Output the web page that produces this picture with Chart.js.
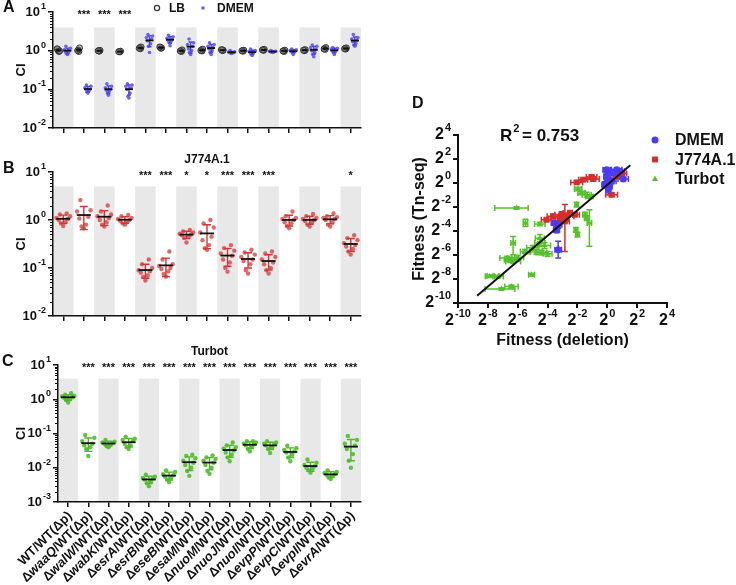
<!DOCTYPE html>
<html>
<head>
<meta charset="utf-8">
<script src="https://cdn.jsdelivr.net/npm/chart.js@4.4.1/dist/chart.umd.min.js"></script>
<style>
  html, body { margin: 0; padding: 0; background: #fff; }
  #wrap { position: relative; width: 736px; height: 585px; overflow: hidden; }
  #wrap canvas { position: absolute; left: 0; top: 0; }
</style>
</head>
<body>
<div id="wrap">
  <canvas id="panelA" width="736" height="585"></canvas>
  <canvas id="panelB" width="736" height="585"></canvas>
  <canvas id="panelC" width="736" height="585"></canvas>
  <canvas id="panelD" width="736" height="585"></canvas>
</div>
<script>
// ---- data ----
const strains = ['WT', 'waaQ', 'walW', 'wabK', 'esrA', 'esrB', 'eseB', 'esaM', 'nuoM', 'nuoJ', 'nuoI', 'evpP', 'evpC', 'evpI', 'evrA'];

// panel A, competitive index in LB and DMEM
const lbCI = [
  [1.0, 1.08, 0.95, 1.12, 0.98], [0.95, 1.05, 1.18, 1.0], [0.97, 1.0, 1.02, 0.99], [0.93, 0.95, 0.97, 0.94],
  [1.12, 1.2, 1.25, 1.15], [1.15, 1.22, 1.18, 1.25], [0.95, 1.0, 1.05, 0.98], [0.98, 1.05, 1.1, 1.0],
  [1.0, 1.05, 1.03, 1.06], [0.97, 1.0, 1.03, 0.99], [1.02, 1.06, 1.08, 1.04], [0.95, 1.0, 1.03, 0.98],
  [1.0, 1.04, 1.06, 1.02], [1.08, 1.15, 1.2, 1.1], [1.1, 1.15, 1.18, 1.12]
];
const dmemCI = [
  [0.8, 0.85, 0.9, 0.95, 1.0, 1.05, 1.15, 1.3],
  [0.08, 0.085, 0.09, 0.1, 0.1, 0.11, 0.12, 0.13],
  [0.07, 0.08, 0.09, 0.095, 0.1, 0.11, 0.12, 0.14],
  [0.06, 0.065, 0.08, 0.1, 0.11, 0.12, 0.13, 0.14],
  [0.9, 1.3, 1.5, 1.8, 2.0, 2.2, 2.4, 2.6],
  [1.35, 1.6, 1.75, 1.85, 1.95, 2.1, 2.3, 2.5],
  [0.8, 0.9, 1.0, 1.1, 1.3, 1.45, 1.6, 2.0],
  [0.8, 0.9, 1.0, 1.1, 1.2, 1.3, 1.45, 1.6],
  [0.85, 0.87, 0.88, 0.9, 0.9, 0.92, 0.94, 1.0],
  [0.75, 0.8, 0.85, 0.9, 0.95, 0.97, 1.0, 1.1],
  [0.9, 0.92, 0.93, 0.94, 0.95, 0.96, 0.97, 1.0],
  [0.8, 0.88, 0.92, 0.96, 1.0, 1.02, 1.05, 1.1],
  [0.7, 0.8, 0.9, 1.0, 1.1, 1.2, 1.3, 1.4],
  [0.8, 0.9, 0.95, 1.0, 1.05, 1.1, 1.15, 1.2],
  [1.3, 1.4, 1.55, 1.7, 1.85, 2.0, 2.2, 2.6]
];
// panel B, J774A.1 macrophages
const j774CI = [
  [0.75, 0.85, 0.9, 1.0, 1.05, 1.1, 1.2, 1.3, 1.37],
  [0.67, 0.73, 0.8, 1.08, 1.17, 1.5, 1.6, 2.6],
  [0.73, 0.8, 0.9, 1.0, 1.1, 1.2, 1.3, 1.5, 2.0],
  [0.8, 0.85, 0.9, 0.95, 1.0, 1.05, 1.1, 1.2, 1.27],
  [0.055, 0.065, 0.07, 0.08, 0.085, 0.09, 0.1, 0.12, 0.15],
  [0.066, 0.075, 0.085, 0.095, 0.1, 0.11, 0.12, 0.15, 0.22],
  [0.34, 0.42, 0.45, 0.48, 0.5, 0.52, 0.55, 0.58, 0.62],
  [0.24, 0.26, 0.3, 0.38, 0.45, 0.55, 0.7, 0.85, 1.0],
  [0.084, 0.1, 0.13, 0.15, 0.18, 0.2, 0.23, 0.26, 0.3],
  [0.077, 0.09, 0.12, 0.14, 0.15, 0.17, 0.19, 0.21, 0.24],
  [0.077, 0.09, 0.1, 0.12, 0.13, 0.15, 0.17, 0.2, 0.22],
  [0.67, 0.75, 0.85, 0.9, 1.0, 1.05, 1.1, 1.2, 1.5],
  [0.73, 0.8, 0.9, 0.95, 1.0, 1.05, 1.1, 1.2, 1.33],
  [0.73, 0.8, 0.9, 1.0, 1.05, 1.1, 1.15, 1.2, 1.37],
  [0.19, 0.22, 0.25, 0.28, 0.3, 0.33, 0.38, 0.42, 0.48]
];
// panel C, turbot infection
const turbotCI = [
  [0.8, 0.95, 1.0, 1.1, 1.15, 1.2, 1.25, 1.35, 1.5],
  [0.022, 0.035, 0.04, 0.045, 0.05, 0.06, 0.075, 0.09],
  [0.04, 0.043, 0.046, 0.05, 0.052, 0.055, 0.058, 0.065],
  [0.035, 0.04, 0.045, 0.05, 0.06, 0.065, 0.07, 0.08],
  [0.0029, 0.0035, 0.004, 0.0045, 0.0048, 0.005, 0.0055, 0.0063],
  [0.0038, 0.0045, 0.005, 0.0055, 0.006, 0.0065, 0.0075, 0.0084],
  [0.0058, 0.008, 0.01, 0.012, 0.014, 0.016, 0.019, 0.022, 0.024],
  [0.0067, 0.008, 0.01, 0.012, 0.014, 0.016, 0.018, 0.02, 0.023],
  [0.0155, 0.02, 0.024, 0.028, 0.032, 0.036, 0.04, 0.045, 0.055],
  [0.03, 0.035, 0.04, 0.045, 0.048, 0.05, 0.055, 0.06, 0.06],
  [0.027, 0.035, 0.04, 0.045, 0.048, 0.05, 0.055, 0.06],
  [0.0155, 0.02, 0.024, 0.028, 0.03, 0.033, 0.037, 0.044],
  [0.0072, 0.0085, 0.0095, 0.01, 0.011, 0.012, 0.014, 0.0175],
  [0.0047, 0.0052, 0.0058, 0.0062, 0.0065, 0.007, 0.0075, 0.0084],
  [0.01, 0.016, 0.025, 0.035, 0.045, 0.05, 0.065, 0.085]
];
const starsA = ['', '***', '***', '***', '', '', '', '', '', '', '', '', '', '', ''];
const starsB = ['', '', '', '', '***', '***', '*', '*', '***', '***', '***', '', '', '', '*'];
const starsC = ['', '***', '***', '***', '***', '***', '***', '***', '***', '***', '***', '***', '***', '***', '***'];
const ciTicksAB = [0.01, 0.1, 1, 10];
const ciTicksC = [0.001, 0.01, 0.1, 1, 10];

// panel D, log2 fitness: [deletion, Tn-seq, x error, y error] (error may be [minus, plus])
const dmemFit = [
  [-0.04, 1.11, 0.25, 0.15], [0.18, 0.97, 0.3, 0.15], [0.4, 0.83, 0.3, 0.2], [0.63, 1.11, 0.35, 0.12],
  [0.85, 0.97, 0.3, 0.15], [-0.04, 0.55, 0.2, 0.3], [0.07, 0.28, 0.25, 0.25], [0.29, 0.14, 0.3, 0.2],
  [1.07, 0.33, 0.35, 0.15], [-0.16, -0.14, 0.2, 0.25], [0.13, -0.28, 0.2, 0.3], [0.07, -0.56, 0.15, 0.4],
  [-3.51, -3.33, 0.25, 0.2], [-3.29, -3.47, 0.25, 0.3], [-3.4, -3.89, 0.2, 0.25], [-3.29, -5.56, 0.22, 0.7]
];
const j774Fit = [
  [-2.05, 0.05, 0.4, 0.12], [-1.61, 0.28, 0.3, 0.12], [-1.05, 0.5, 0.35, 0.15], [-0.94, 0.33, 0.4, 0.15],
  [0.29, -0.98, 0.4, 0.15], [0.7, 0.55, 0.3, 0.12], [1.0, 0.8, 0.3, 0.12],
  [-4.07, -3.06, 0.35, 0.15], [-3.63, -2.78, 0.4, 0.2], [-3.06, -2.64, 0.45, 0.25], [-2.73, -2.78, 0.5, 0.2],
  [-2.5, -2.5, 0.45, 0.2], [-2.84, -3.2, 0.3, [2.5, 1.4]], [-3.18, -2.92, 0.6, 0.2], [-2.17, -2.64, 0.3, 0.15]
];
const turbotFit = [
  [-6.08, -2.08, [1.46, 0.78], 0.1], [-5.48, -3.33, 0.15, 0.3], [-4.52, -3.42, 0.35, 0.15],
  [-6.31, -5.0, 0.15, [0.97, 0.55]], [-6.7, -6.25, 0.5, 0.15], [-6.5, -6.4, 0.4, 0.2], [-6.3, -6.55, 0.5, 0.15],
  [-6.0, -6.2, 0.4, 0.15], [-5.52, -5.7, 0.3, 0.15], [-5.0, -5.4, 0.4, 0.2], [-4.52, -5.0, 0.35, 0.3],
  [-4.2, -5.2, 0.4, 0.25], [-4.75, -5.75, 0.4, 0.2], [-4.4, -5.8, 0.35, 0.2], [-4.0, -5.9, 0.3, 0.2],
  [-4.52, -4.6, 0.3, 0.3], [-5.07, -7.64, 0.2, 0.1], [-7.87, -7.78, 0.3, 0.1], [-7.65, -7.75, 0.4, 0.1],
  [-7.31, -7.8, 0.35, 0.1], [-7.09, -8.83, [1.1, 0.9], 0.1], [-6.42, -8.62, 0.45, 0.12],
  [-2.06, -1.81, 0.1, 0.2], [-1.95, -0.5, 0.25, 0.15], [-1.72, -0.83, 0.25, 0.15], [-1.38, -0.98, 0.3, 0.2],
  [-1.2, -1.12, 0.25, 0.15], [-1.5, -2.64, 0.15, 0.2], [-1.38, -2.92, 0.15, 0.2], [-1.2, -3.33, 0.15, [1.95, 1.1]],
  [-2.1, -3.9, 0.12, 0.2], [-2.0, -4.3, 0.12, 0.2]
];
const fitTicks = [-10, -8, -6, -4, -2, 0, 2, 4];
const fitLine = { slope: 1.06, intercept: -0.15, from: -8.72, to: 1.54 };
const r2Text = '0.753';

// ---- helpers ----
const FONT = '"Liberation Sans", Arial, Helvetica, sans-serif';
Chart.defaults.font.family = FONT;
Chart.defaults.color = '#111';
const INK = '#111';

function powLabel(ctx, base, exp, x, y, align, size) {
  const bFont = 'bold ' + size + 'px ' + FONT;
  const eFont = 'bold ' + Math.round(size * 0.66) + 'px ' + FONT;
  ctx.font = bFont; const wb = ctx.measureText(base).width;
  ctx.font = eFont; const we = ctx.measureText(exp).width;
  const total = wb + we + 1;
  const x0 = align === 'right' ? x - total : align === 'center' ? x - total / 2 : x;
  ctx.textAlign = 'left'; ctx.textBaseline = 'middle';
  ctx.font = bFont; ctx.fillText(base, x0, y);
  ctx.font = eFont; ctx.fillText(exp, x0 + wb + 1, y - size * 0.42);
}

function spread(j, step) {
  const k = [0, -1, 1, -2, 2, -3, 3, -1.5, 1.5, -0.5, 0.5][j % 11];
  return k * step;
}
function dots(groups, shift, step) {
  const pts = [];
  groups.forEach((vals, i) => vals.forEach((v, j) => pts.push({ x: i + shift + spread(j, step), y: v })));
  return pts;
}

function categoryAxis() {
  return {
    type: 'linear', min: -0.5, max: strains.length - 0.5,
    afterBuildTicks: s => { s.ticks = strains.map((_, i) => ({ value: i })); },
    afterFit: s => { s.height = 7; },
    ticks: { display: false },
    grid: { drawOnChartArea: false, drawTicks: true, tickLength: 5, color: INK, lineWidth: 1.5 },
    border: { color: INK, width: 1.5 }
  };
}
function ciAxis(ticks, width) {
  return {
    type: 'logarithmic', min: ticks[0], max: ticks[ticks.length - 1],
    afterBuildTicks: s => { s.ticks = ticks.map(v => ({ value: v })); },
    afterFit: s => { s.width = width; },
    ticks: { display: false },
    grid: { drawOnChartArea: false, drawTicks: true, tickLength: 5, color: INK, lineWidth: 1.5 },
    border: { color: INK, width: 1.5 },
    title: { display: true, text: 'CI', color: INK, font: { size: 13, weight: 'bold' }, padding: { top: 14 } }
  };
}

// bands, mean +/- SD, stars, y labels and panel texts for the dot plots
const dotPlot = {
  id: 'dotPlot',
  beforeDraw(chart, args, o) {
    const { ctx, chartArea: a, scales: { x, y } } = chart;
    const top = y.getPixelForValue(o.bandTop);
    ctx.save();
    ctx.fillStyle = '#e8e8e8';
    for (let i = 0; i < strains.length; i += 2) {
      const l = x.getPixelForValue(i - 0.5), r = x.getPixelForValue(i + 0.5);
      ctx.fillRect(l, top, r - l, a.bottom - top);
    }
    ctx.restore();
  },
  afterDatasetsDraw(chart, args, o) {
    const { ctx, scales: { x, y } } = chart;
    ctx.save();
    o.series.forEach(s => {
      s.groups.forEach((vals, i) => {
        const n = vals.length;
        const mean = vals.reduce((p, v) => p + v, 0) / n;
        const sd = Math.sqrt(vals.reduce((p, v) => p + (v - mean) * (v - mean), 0) / (n - 1));
        const cx = x.getPixelForValue(i + s.shift);
        const lo = y.getPixelForValue(Math.max(mean - sd, y.min));
        const hi = y.getPixelForValue(mean + sd);
        const my = y.getPixelForValue(mean);
        ctx.strokeStyle = s.bar; ctx.lineWidth = 1.4;
        ctx.beginPath();
        ctx.moveTo(cx, lo); ctx.lineTo(cx, hi);
        ctx.moveTo(cx - s.cap, lo); ctx.lineTo(cx + s.cap, lo);
        ctx.moveTo(cx - s.cap, hi); ctx.lineTo(cx + s.cap, hi);
        ctx.stroke();
        ctx.strokeStyle = INK; ctx.lineWidth = 1.8;
        ctx.beginPath(); ctx.moveTo(cx - s.half, my); ctx.lineTo(cx + s.half, my); ctx.stroke();
      });
    });
    ctx.restore();
  },
  afterDraw(chart, args, o) {
    const { ctx, chartArea: a, scales: { x, y } } = chart;
    ctx.save();
    ctx.fillStyle = INK; ctx.strokeStyle = INK; ctx.lineWidth = 1;
    // minor log ticks
    for (let d = Math.log10(y.min); d < Math.log10(y.max); d++) {
      for (let k = 2; k <= 9; k++) {
        const py = Math.round(y.getPixelForValue(k * Math.pow(10, d))) + 0.5;
        ctx.beginPath(); ctx.moveTo(a.left, py); ctx.lineTo(a.left - 3, py); ctx.stroke();
      }
    }
    y.ticks.forEach(t => {
      powLabel(ctx, '10', String(Math.round(Math.log10(t.value))), a.left - 7, y.getPixelForValue(t.value), 'right', 13);
    });
    ctx.fillStyle = INK;
    ctx.font = 'bold 11px ' + FONT; ctx.textAlign = 'center'; ctx.textBaseline = 'middle';
    o.stars.forEach((s, i) => { if (s) ctx.fillText(s, x.getPixelForValue(i), o.starY); });
    ctx.font = 'bold 16px ' + FONT; ctx.textAlign = 'left';
    ctx.fillText(o.letter, o.letterAt[0], o.letterAt[1]);
    if (o.title) {
      ctx.font = 'bold 12px ' + FONT; ctx.textAlign = 'center';
      ctx.fillText(o.title, (a.left + a.right) / 2, o.titleY);
    }
    if (o.legend) o.legend(ctx);
    if (o.xLabels) o.xLabels(ctx, chart);
    ctx.restore();
  }
};

function dotChart(id, pad, yTicks, yWidth, datasets, plot) {
  return new Chart(document.getElementById(id), {
    type: 'scatter',
    data: { datasets },
    options: {
      responsive: false, animation: false, events: [],
      layout: { padding: pad },
      scales: { x: categoryAxis(), y: ciAxis(yTicks, yWidth) },
      plugins: { legend: { display: false }, tooltip: { enabled: false }, dotPlot: plot }
    },
    plugins: [dotPlot]
  });
}

// ---- panel A ----
const blueDot = '#6d62f3', blueBar = '#4a3ef0';
dotChart('panelA', { left: 0, top: 12, right: 375, bottom: 450 }, ciTicksAB, 53, [
  { data: dots(dmemCI, 0.2, 0.05), pointRadius: 1.8, backgroundColor: blueDot, borderWidth: 0 },
  { data: dots(lbCI, -0.24, 0.03), pointRadius: 3, backgroundColor: 'rgba(150,150,150,0.55)', borderColor: '#333', borderWidth: 1 }
], {
  bandTop: 4, starY: 15, letter: 'A', letterAt: [3, 8],
  stars: starsA,
  series: [
    { groups: lbCI, shift: -0.24, bar: '#333', cap: 2, half: 3 },
    { groups: dmemCI, shift: 0.2, bar: blueBar, cap: 2, half: 4 }
  ],
  legend(ctx) {
    ctx.strokeStyle = '#333'; ctx.lineWidth = 1.2;
    ctx.beginPath(); ctx.arc(157, 8, 2.6, 0, Math.PI * 2); ctx.stroke();
    ctx.fillStyle = blueDot;
    ctx.beginPath(); ctx.arc(203, 8, 1.8, 0, Math.PI * 2); ctx.fill();
    ctx.fillStyle = INK; ctx.font = 'bold 12px ' + FONT; ctx.textAlign = 'left'; ctx.textBaseline = 'middle';
    ctx.fillText('LB', 169, 9); ctx.fillText('DMEM', 217, 9);
  }
});

// ---- panel B ----
dotChart('panelB', { left: 0, top: 172, right: 375, bottom: 262 }, ciTicksAB, 53, [
  { data: dots(j774CI, 0, 0.11), pointRadius: 2.2, backgroundColor: 'rgba(214,55,55,0.75)', borderWidth: 0 }
], {
  bandTop: 5, starY: 176, letter: 'B', letterAt: [3, 169], title: 'J774A.1', titleY: 160,
  stars: starsB,
  series: [{ groups: j774CI, shift: 0, bar: '#d63535', cap: 4, half: 7 }]
});

// ---- panel C ----
dotChart('panelC', { left: 0, top: 365, right: 375, bottom: 76 }, ciTicksC, 58, [
  { data: dots(turbotCI, 0, 0.1), pointRadius: 2.2, backgroundColor: 'rgba(80,190,40,0.9)', borderWidth: 0 }
], {
  bandTop: 4, starY: 368, letter: 'C', letterAt: [2, 362], title: 'Turbot', titleY: 352,
  stars: starsC,
  series: [{ groups: turbotCI, shift: 0, bar: '#4cb82a', cap: 4, half: 7 }],
  xLabels(ctx, chart) {
    const { chartArea: a, scales: { x } } = chart;
    const reg = 'bold 13px ' + FONT, ital = 'italic bold 13px ' + FONT;
    strains.forEach((g, i) => {
      const parts = i === 0 ? [['WT/WT(Δp)', reg]] : [['Δ', reg], [g, ital], ['/WT(Δp)', reg]];
      let w = 0;
      parts.forEach(p => { ctx.font = p[1]; w += ctx.measureText(p[0]).width; });
      ctx.save();
      ctx.translate(x.getPixelForValue(i) + 2, a.bottom + 12);
      ctx.rotate(-Math.PI / 4);
      ctx.textAlign = 'left'; ctx.textBaseline = 'middle'; ctx.fillStyle = INK;
      let cx = -w;
      parts.forEach(p => { ctx.font = p[1]; ctx.fillText(p[0], cx, 0); cx += ctx.measureText(p[0]).width; });
      ctx.restore();
    });
  }
});

// ---- panel D ----
const fitSeries = [
  { label: 'DMEM', pts: dmemFit, color: '#4b3cf2', style: 'circle', radius: 3.5 },
  { label: 'J774A.1', pts: j774Fit, color: '#d42f2f', style: 'rect', radius: 4.2 },
  { label: 'Turbot', pts: turbotFit, color: '#55c22a', style: 'triangle', radius: 3.4 }
];
const errPair = e => Array.isArray(e) ? e : [e, e];

function markerPath(ctx, style, cx, cy, r) {
  ctx.beginPath();
  if (style === 'circle') ctx.arc(cx, cy, r, 0, Math.PI * 2);
  else if (style === 'rect') { const h = r * Math.SQRT1_2; ctx.rect(cx - h, cy - h, 2 * h, 2 * h); }
  else { ctx.moveTo(cx, cy - r); ctx.lineTo(cx + r * 0.9, cy + r * 0.6); ctx.lineTo(cx - r * 0.9, cy + r * 0.6); ctx.closePath(); }
}

const fitnessDeco = {
  id: 'fitnessDeco',
  beforeDatasetsDraw(chart) {
    const { ctx, scales: { x, y } } = chart;
    ctx.save();
    ctx.lineWidth = 1.5;
    fitSeries.forEach(s => {
      ctx.strokeStyle = s.color;
      s.pts.forEach(p => {
        const [xm, xp] = errPair(p[2]), [ym, yp] = errPair(p[3]);
        const px = x.getPixelForValue(p[0]), py = y.getPixelForValue(p[1]);
        const x1 = x.getPixelForValue(p[0] - xm), x2 = x.getPixelForValue(p[0] + xp);
        const y1 = y.getPixelForValue(p[1] - ym), y2 = y.getPixelForValue(p[1] + yp);
        ctx.beginPath();
        ctx.moveTo(x1, py); ctx.lineTo(x2, py);
        ctx.moveTo(x1, py - 3); ctx.lineTo(x1, py + 3);
        ctx.moveTo(x2, py - 3); ctx.lineTo(x2, py + 3);
        ctx.moveTo(px, y1); ctx.lineTo(px, y2);
        ctx.moveTo(px - 3, y1); ctx.lineTo(px + 3, y1);
        ctx.moveTo(px - 3, y2); ctx.lineTo(px + 3, y2);
        ctx.stroke();
      });
    });
    ctx.restore();
  },
  afterDraw(chart) {
    const { ctx, chartArea: a, scales: { x, y } } = chart;
    ctx.save();
    ctx.fillStyle = INK;
    fitTicks.forEach(v => {
      powLabel(ctx, '2', String(v), x.getPixelForValue(v), 321, 'center', 16);
      powLabel(ctx, '2', String(v), a.left - 7, y.getPixelForValue(v), 'right', 16);
    });
    ctx.fillStyle = INK;
    ctx.font = 'bold 16px ' + FONT; ctx.textAlign = 'left'; ctx.textBaseline = 'middle';
    ctx.fillText('D', 412, 104);
    powLabel(ctx, 'R', '2', 500, 136, 'left', 17);
    ctx.font = 'bold 17px ' + FONT; ctx.textAlign = 'left';
    ctx.fillText('= ' + r2Text, 522, 136);
    fitSeries.forEach((s, i) => {
      const ly = 140 + i * 19.5;
      ctx.fillStyle = s.color;
      markerPath(ctx, s.style, 655, ly, s.radius);
      ctx.fill();
      ctx.fillStyle = INK; ctx.font = 'bold 16px ' + FONT;
      ctx.fillText(s.label, 675, ly + 1);
    });
    ctx.restore();
  }
};

function fitAxis(title, isX) {
  return {
    type: 'linear', min: fitTicks[0], max: fitTicks[fitTicks.length - 1],
    afterBuildTicks: s => { s.ticks = fitTicks.map(v => ({ value: v })); },
    afterFit: s => { if (isX) s.height = 47; else s.width = 58; },
    ticks: { display: false },
    grid: { drawOnChartArea: false, drawTicks: true, tickLength: 5, color: INK, lineWidth: 2 },
    border: { color: INK, width: 2 },
    title: { display: true, text: title, color: INK, font: { size: 16, weight: 'bold' },
             padding: isX ? { bottom: 0 } : { top: 10 } }
  };
}

new Chart(document.getElementById('panelD'), {
  type: 'scatter',
  data: {
    datasets: [
      {
        type: 'line',
        data: [fitLine.from, fitLine.to].map(v => ({ x: v, y: fitLine.slope * v + fitLine.intercept })),
        borderColor: INK, borderWidth: 2, pointRadius: 0, showLine: true, fill: false
      }
    ].concat(fitSeries.map(s => ({
      label: s.label,
      data: s.pts.map(p => ({ x: p[0], y: p[1] })),
      pointStyle: s.style, pointRadius: s.radius,
      backgroundColor: s.color, borderColor: s.color, borderWidth: 0
    })))
  },
  options: {
    responsive: false, animation: false, events: [],
    layout: { padding: { left: 400, top: 135, right: 69, bottom: 235 } },
    scales: { x: fitAxis('Fitness (deletion)', true), y: fitAxis('Fitness (Tn-seq)', false) },
    plugins: { legend: { display: false }, tooltip: { enabled: false } }
  },
  plugins: [fitnessDeco]
});
</script>
</body>
</html>
